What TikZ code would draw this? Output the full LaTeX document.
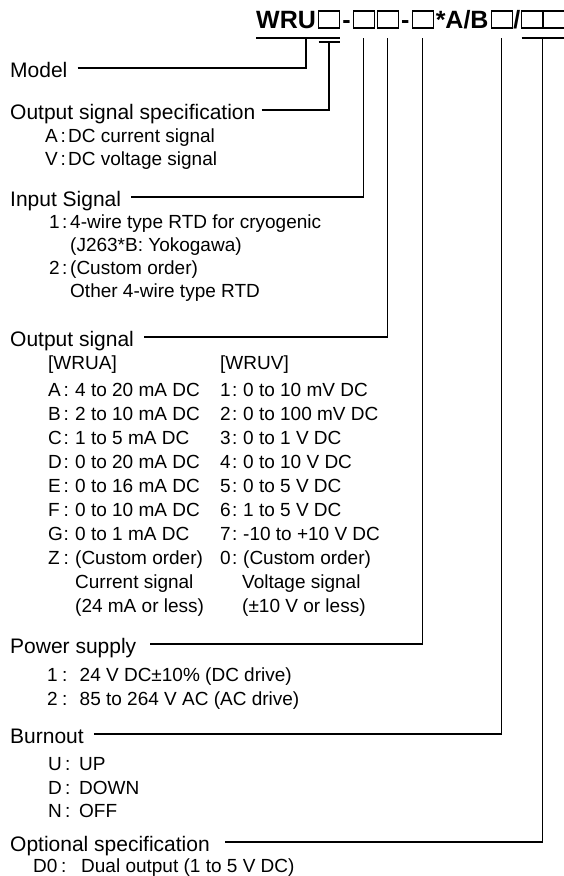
\documentclass[tikz,border=0pt]{standalone}
\usepackage{fontspec}
\setmainfont{Liberation Sans}
\usetikzlibrary{positioning,calc}
\newcommand{\codeline}[4]{\makebox[#1][l]{\makebox[#2][l]{#3}:}#4}

\begin{document}
\begin{tikzpicture}[x=1pt,y=-1pt,
  head/.style={anchor=west,inner sep=0pt,font=\fontsize{21}{25}\selectfont,text height=15pt,text depth=0pt},
  item/.style={anchor=west,inner sep=0pt,font=\fontsize{19}{23}\selectfont,text height=13.6pt,text depth=0pt},
  ttl/.style={inner sep=0pt,font=\fontsize{25}{30}\selectfont\bfseries},
  slot/.style={draw,line width=1.1pt,inner sep=0pt,outer sep=0pt,minimum width=21pt,minimum height=17pt},
  conn/.style={line width=1.3pt}]
  \useasboundingbox (0,0) rectangle (563,876);

  % model code
  \node[ttl,anchor=base west] (tW) at (256,28) {WRU};
  \node[slot,right=2.5pt of tW.base east,anchor=south west] (b1) {};
  \node[ttl,right=2.5pt of b1.south east,anchor=base west] (h1) {-};
  \node[slot,right=2.5pt of h1.base east,anchor=south west] (b2) {};
  \node[slot,right=3pt of b2.south east,anchor=south west] (b3) {};
  \node[ttl,right=2.5pt of b3.south east,anchor=base west] (h2) {-};
  \node[slot,right=2.5pt of h2.base east,anchor=south west] (b4) {};
  \node[ttl,right=2.5pt of b4.south east,anchor=base west] (tAB) {*A/B};
  \node[slot,right=2.5pt of tAB.base east,anchor=south west] (b5) {};
  \node[ttl,right=1pt of b5.south east,anchor=base west] (tSl) {/};
  \node[slot,right=1pt of tSl.base east,anchor=south west] (b6) {};
  \node[slot,right=0.5pt of b6.south east,anchor=south west] (b7) {};

  \coordinate (mdl) at (306,38);
  \coordinate (opt) at ($(b6.south east)!0.5!(b7.south west)+(0,10)$);
  \draw[conn] (tW.base west |- mdl) -- (b1.east |- mdl);
  \draw[conn] ([yshift=-14pt]b1.south west) -- ([yshift=-14pt]b1.south east);
  \draw[conn] ([yshift=-10pt]b6.south west) -- ([yshift=-10pt]b7.south east);

  % headings
  \node[head] (model) at (10,70) {Model};
  \node[head] (ospec) at (10,112) {Output signal specification};
  \node[head] (insig) at (10,199) {Input Signal};
  \node[head] (outsig) at (10,339) {Output signal};
  \node[head] (power) at (10,646) {Power supply};
  \node[head] (burn) at (10,736) {Burnout};
  \node[head] (option) at (10,844) {Optional specification};

  \draw[conn] ([shift={(10pt,2pt)}]model.east) -| (mdl);
  \draw[conn] ([shift={(6pt,2pt)}]ospec.east) -| ([yshift=-14pt]b1.south);
  \draw[conn] ([shift={(10pt,2pt)}]insig.east) -| ([yshift=-10pt]b2.south);
  \draw[conn] ([shift={(10pt,2pt)}]outsig.east) -| ([yshift=-10pt]b3.south);
  \draw[conn] ([shift={(14pt,2pt)}]power.east) -| ([yshift=-10pt]b4.south);
  \draw[conn] ([shift={(10pt,2pt)}]burn.east) -| ([yshift=-10pt]b5.south);
  \draw[conn] ([shift={(15pt,2pt)}]option.east) -| (opt);

  % output signal specification
  \node[item] (sA) at (45,136) {\codeline{23pt}{15.5pt}{A}{DC current signal}};
  \node[item] (sV) at (45,159) {\codeline{23pt}{15.5pt}{V}{DC voltage signal}};

  % input signal
  \node[item] (in1) at (49,222) {\codeline{21pt}{13pt}{1}{4-wire type RTD for cryogenic}};
  \node[item] (in1b) at (70,245) {(J263*B: Yokogawa)};
  \node[item] (in2) at (49,268) {\codeline{21pt}{13pt}{2}{(Custom order)}};
  \node[item] (in2b) at (70,291) {Other 4-wire type RTD};

  % output signal
  \node[item] (wrua) at (48,363) {[WRUA]};
  \node[item] (wruv) at (220,363) {[WRUV]};
  \node[item] (oA) at (48,390) {\codeline{27pt}{15.5pt}{A}{4 to 20 mA DC}};
  \node[item] (oB) at (48,414) {\codeline{27pt}{15.5pt}{B}{2 to 10 mA DC}};
  \node[item] (oC) at (48,438) {\codeline{27pt}{15.5pt}{C}{1 to 5 mA DC}};
  \node[item] (oD) at (48,462) {\codeline{27pt}{15.5pt}{D}{0 to 20 mA DC}};
  \node[item] (oE) at (48,486) {\codeline{27pt}{15.5pt}{E}{0 to 16 mA DC}};
  \node[item] (oF) at (48,510) {\codeline{27pt}{15.5pt}{F}{0 to 10 mA DC}};
  \node[item] (oG) at (48,534) {\codeline{27pt}{15.5pt}{G}{0 to 1 mA DC}};
  \node[item] (oZ) at (48,558) {\codeline{27pt}{15.5pt}{Z}{(Custom order)}};
  \node[item] (oZb) at (75,582) {Current signal};
  \node[item] (oZc) at (75,606) {(24 mA or less)};
  \node[item] (v1) at (220,390) {\codeline{23pt}{12pt}{1}{0 to 10 mV DC}};
  \node[item] (v2) at (220,414) {\codeline{23pt}{12pt}{2}{0 to 100 mV DC}};
  \node[item] (v3) at (220,438) {\codeline{23pt}{12pt}{3}{0 to 1 V DC}};
  \node[item] (v4) at (220,462) {\codeline{23pt}{12pt}{4}{0 to 10 V DC}};
  \node[item] (v5) at (220,486) {\codeline{23pt}{12pt}{5}{0 to 5 V DC}};
  \node[item] (v6) at (220,510) {\codeline{23pt}{12pt}{6}{1 to 5 V DC}};
  \node[item] (v7) at (220,534) {\codeline{23pt}{12pt}{7}{-10 to +10 V DC}};
  \node[item] (v0) at (220,558) {\codeline{23pt}{12pt}{0}{(Custom order)}};
  \node[item] (v0b) at (242,582) {Voltage signal};
  \node[item] (v0c) at (242,606) {(±10 V or less)};

  % power supply
  \node[item] (p1) at (47,675) {\codeline{32.5pt}{15pt}{1}{24 V DC±10\% (DC drive)}};
  \node[item] (p2) at (47,699) {\codeline{32.5pt}{15pt}{2}{85 to 264 V AC (AC drive)}};

  % burnout
  \node[item] (bU) at (48,764) {\codeline{31pt}{17pt}{U}{UP}};
  \node[item] (bD) at (48,788) {\codeline{31pt}{17pt}{D}{DOWN}};
  \node[item] (bN) at (48,811) {\codeline{31pt}{17pt}{N}{OFF}};

  % optional specification
  \node[item] (d0) at (33,866) {\codeline{48pt}{28pt}{D0}{Dual output (1 to 5 V DC)}};
\end{tikzpicture}
\end{document}
